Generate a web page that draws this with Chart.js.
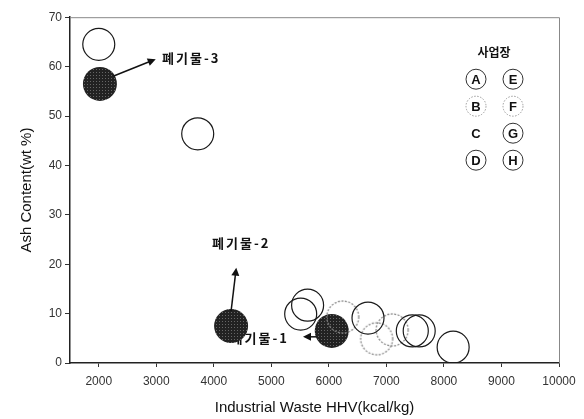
<!DOCTYPE html>
<html>
<head>
<meta charset="utf-8">
<script src="https://cdn.jsdelivr.net/npm/chart.js@4.4.1/dist/chart.umd.min.js"></script>
<style>
  html, body { margin: 0; padding: 0; background: #fff; }
  #wrap { width: 584px; height: 419px; }
</style>
</head>
<body>
<div id="wrap"><canvas id="myChart"></canvas></div>
<script>
// ejes
const xTicks = [2000, 3000, 4000, 5000, 6000, 7000, 8000, 9000, 10000];
const yTicks = [0, 10, 20, 30, 40, 50, 60, 70];

// sitios con borde negro continuo
const solidX = [2000, 3720, 5630, 5510, 6680, 7450, 7570, 8160];
const solidY = [64.5, 46.4, 11.7, 9.9, 9.1, 6.5, 6.5, 3.2];
// sitios con borde gris punteado
const dottedX = [6240, 7100, 6830];
const dottedY = [9.3, 6.7, 4.9];
// residuos (circulos rellenos)
const wasteX = [6050, 4300, 2020];
const wasteY = [6.5, 7.5, 56.5];

// anotaciones: etiqueta, flecha (desde -> hasta) y posicion del texto
const noteLabels = ['폐기물-1', '폐기물-2', '폐기물-3'];
const arrowFromX = [5780, 4300, 2260];
const arrowFromY = [5.3, 10.5, 58.1];
const arrowToX = [5550, 4390, 2990];
const arrowToY = [5.3, 19.3, 61.5];
const noteX = [4290, 3970, 3100];
const noteY = [5.0, 24.3, 61.7];

// leyenda
const legendTitle = '사업장';
const legendLetters = ['A', 'B', 'C', 'D', 'E', 'F', 'G', 'H'];
const legendStyle = ['solid', 'dotted', 'none', 'solid', 'solid', 'dotted', 'solid', 'solid'];

// patron para los circulos rellenos
function makePattern() {
  const c = document.createElement('canvas');
  c.width = 3; c.height = 3;
  const g = c.getContext('2d');
  g.fillStyle = '#222';
  g.fillRect(0, 0, 3, 3);
  g.fillStyle = '#666';
  g.fillRect(0, 0, 1, 1);
  return g.createPattern(c, 'repeat');
}

// circulo punteado como pointStyle
function makeDotted(r) {
  const size = r * 2 + 4;
  const c = document.createElement('canvas');
  c.width = size; c.height = size;
  const g = c.getContext('2d');
  g.strokeStyle = '#8a8a8a';
  g.lineWidth = 1.3;
  g.setLineDash([2, 1.5]);
  g.beginPath();
  g.arc(size / 2, size / 2, r, 0, Math.PI * 2);
  g.stroke();
  return c;
}

function toPts(xs, ys) {
  return xs.map((x, i) => ({ x: x, y: ys[i] }));
}

const decoPlugin = {
  id: 'deco',
  beforeDatasetsDraw(chart) {
    const { ctx, chartArea: a, scales: { x, y } } = chart;
    ctx.save();
    // borde superior y derecho
    ctx.strokeStyle = '#888';
    ctx.lineWidth = 1;
    ctx.beginPath();
    ctx.moveTo(a.left, a.top + 0.5);
    ctx.lineTo(a.right + 0.5, a.top + 0.5);
    ctx.lineTo(a.right + 0.5, a.bottom);
    ctx.stroke();
    // textos de anotacion
    ctx.fillStyle = '#111';
    ctx.font = 'bold 13px "Noto Sans CJK KR"';
    ctx.textBaseline = 'middle';
    ctx.textAlign = 'left';
    try { ctx.letterSpacing = '2px'; } catch (e) {}
    noteLabels.forEach((t, i) => {
      ctx.fillText(t, x.getPixelForValue(noteX[i]), y.getPixelForValue(noteY[i]));
    });
    ctx.restore();
  },
  afterDatasetsDraw(chart) {
    const { ctx, chartArea: a, scales: { x, y } } = chart;
    ctx.save();
    // flechas
    ctx.strokeStyle = '#111';
    ctx.fillStyle = '#111';
    ctx.lineWidth = 1.5;
    noteLabels.forEach((t, i) => {
      const x1 = x.getPixelForValue(arrowFromX[i]), y1 = y.getPixelForValue(arrowFromY[i]);
      const x2 = x.getPixelForValue(arrowToX[i]), y2 = y.getPixelForValue(arrowToY[i]);
      const ang = Math.atan2(y2 - y1, x2 - x1);
      ctx.beginPath();
      ctx.moveTo(x1, y1);
      ctx.lineTo(x2 - 5 * Math.cos(ang), y2 - 5 * Math.sin(ang));
      ctx.stroke();
      ctx.beginPath();
      ctx.moveTo(x2, y2);
      ctx.lineTo(x2 - 8 * Math.cos(ang) + 4 * Math.sin(ang), y2 - 8 * Math.sin(ang) - 4 * Math.cos(ang));
      ctx.lineTo(x2 - 8 * Math.cos(ang) - 4 * Math.sin(ang), y2 - 8 * Math.sin(ang) + 4 * Math.cos(ang));
      ctx.closePath();
      ctx.fill();
    });
    // leyenda
    const lx = a.right - 83, ly = a.top + 62;
    ctx.fillStyle = '#111';
    ctx.textAlign = 'center';
    ctx.textBaseline = 'middle';
    ctx.font = 'bold 12px "Noto Sans CJK KR"';
    ctx.fillText(legendTitle, lx + 18, a.top + 35);
    ctx.font = 'bold 13px "Liberation Sans"';
    legendLetters.forEach((l, i) => {
      const cx = lx + Math.floor(i / 4) * 37;
      const cy = ly + (i % 4) * 27;
      if (legendStyle[i] !== 'none') {
        ctx.beginPath();
        ctx.lineWidth = 1;
        if (legendStyle[i] === 'dotted') {
          ctx.setLineDash([1.5, 1.5]);
          ctx.strokeStyle = '#999';
        } else {
          ctx.setLineDash([]);
          ctx.strokeStyle = '#333';
        }
        ctx.arc(cx, cy, 10, 0, Math.PI * 2);
        ctx.stroke();
      }
      ctx.setLineDash([]);
      ctx.fillText(l, cx, cy + 1);
    });
    ctx.restore();
  }
};

const ctx = document.getElementById('myChart');

new Chart(ctx, {
  type: 'scatter',
  data: {
    datasets: [
      {
        label: 'solid',
        data: toPts(solidX, solidY),
        pointRadius: 16,
        borderColor: '#1a1a1a',
        borderWidth: 1.2,
        backgroundColor: 'rgba(0,0,0,0)'
      },
      {
        label: 'dotted',
        data: toPts(dottedX, dottedY),
        pointStyle: makeDotted(16),
        pointRadius: 16
      },
      {
        label: 'waste',
        data: toPts(wasteX, wasteY),
        pointRadius: 17,
        borderWidth: 0,
        backgroundColor: makePattern()
      }
    ]
  },
  options: {
    responsive: true,
    maintainAspectRatio: false,
    animation: false,
    events: [],
    layout: { padding: { top: 17, right: 25, left: 0, bottom: 0 } },
    plugins: {
      legend: { display: false },
      tooltip: { enabled: false }
    },
    scales: {
      x: {
        type: 'linear',
        min: 1500,
        max: 10000,
        afterBuildTicks: s => { s.ticks = xTicks.map(v => ({ value: v })); },
        afterFit: s => { s.height = 56; },
        grid: { drawOnChartArea: false, tickLength: 4, color: '#333' },
        border: { color: '#222', width: 1.5 },
        ticks: {
          color: '#333',
          padding: 7,
          font: { family: 'Liberation Sans', size: 12 },
          callback: v => String(v)
        },
        title: {
          display: true,
          text: 'Industrial Waste HHV(kcal/kg)',
          color: '#111',
          font: { family: 'Liberation Sans', size: 15 },
          padding: { top: 0, bottom: 2 }
        }
      },
      y: {
        min: 0,
        max: 70,
        afterBuildTicks: s => { s.ticks = yTicks.map(v => ({ value: v })); },
        afterFit: s => { s.width = 70; },
        grid: { drawOnChartArea: false, tickLength: 5, color: '#333' },
        border: { color: '#222', width: 1.5 },
        ticks: {
          color: '#333',
          padding: 3,
          font: { family: 'Liberation Sans', size: 12 },
          callback: v => String(v)
        },
        title: {
          display: true,
          text: 'Ash Content(wt %)',
          color: '#111',
          font: { family: 'Liberation Sans', size: 15 },
          padding: { top: 18, bottom: 0 }
        }
      }
    }
  },
  plugins: [decoPlugin]
});
</script>
</body>
</html>
